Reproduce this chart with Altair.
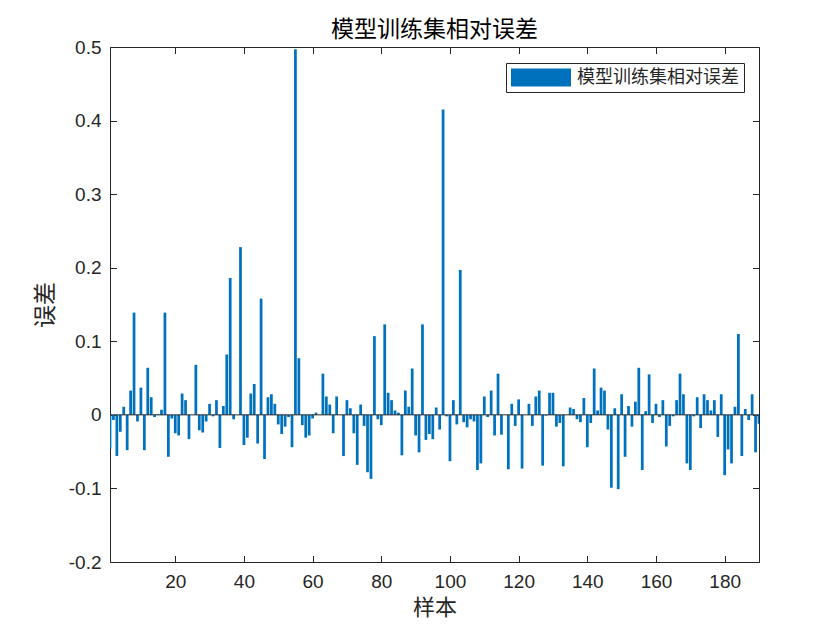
import altair as alt
import pandas as pd

# ---- data ----
err_values = [
    -0.046, -0.007, -0.056, -0.023, 0.011, -0.048, 0.033, 0.139, -0.009, 0.037,
    -0.048, 0.064, 0.024, -0.003, 0.001, 0.007, 0.139, -0.057, -0.005, -0.025,
    -0.028, 0.029, 0.020, -0.033, 0.000, 0.068, -0.021, -0.024, -0.009, 0.015,
    -0.002, 0.020, -0.045, 0.012, 0.082, 0.186, -0.006, 0.000, 0.228, -0.041,
    -0.031, 0.029, 0.042, -0.039, 0.158, -0.060, 0.024, 0.028, 0.015, -0.013,
    -0.026, -0.016, -0.003, -0.044, 0.497, 0.077, -0.014, -0.031, -0.028, -0.005,
    0.003, 0.000, 0.056, 0.025, 0.014, -0.025, 0.025, 0.000, -0.056, 0.020,
    0.009, -0.025, -0.068, 0.014, -0.015, -0.078, -0.087, 0.107, -0.006, -0.014,
    0.123, 0.030, 0.020, 0.006, 0.003, -0.055, 0.033, 0.011, 0.063, -0.028,
    -0.051, 0.123, -0.034, -0.026, -0.033, 0.010, -0.020, 0.415, -0.002, -0.063,
    0.020, -0.013, 0.197, -0.010, -0.017, -0.006, -0.009, -0.075, -0.066, 0.025,
    -0.003, 0.033, -0.028, 0.056, -0.027, 0.000, -0.074, 0.015, -0.015, 0.021,
    -0.073, 0.000, 0.015, -0.015, 0.025, 0.033, -0.069, -0.001, 0.030, 0.030,
    -0.016, -0.011, -0.070, 0.000, 0.010, 0.008, -0.006, -0.010, 0.023, -0.044,
    -0.011, 0.063, 0.006, 0.037, 0.033, -0.020, -0.099, 0.009, -0.101, 0.028,
    -0.057, 0.012, -0.016, 0.018, 0.064, -0.075, 0.005, 0.055, -0.011, 0.015,
    -0.003, 0.020, -0.043, -0.015, -0.002, 0.020, 0.056, 0.028, -0.066, -0.075,
    -0.002, 0.024, -0.018, 0.028, 0.020, 0.006, 0.020, -0.030, 0.028, -0.082,
    -0.047, -0.066, 0.011, 0.110, -0.056, 0.008, -0.007, 0.028, -0.051, -0.012,
]
samples = list(range(1, len(err_values) + 1))
x_ticks = [20, 40, 60, 80, 100, 120, 140, 160, 180]
y_ticks = [-0.2, -0.1, 0.0, 0.1, 0.2, 0.3, 0.4, 0.5]
baseline_value = [0.0]
series_name = "模型训练集相对误差"
chart_title = "模型训练集相对误差"
x_title = "样本"
y_title = "误差"

df = pd.DataFrame({"sample": samples, "err": err_values})
df["x0"] = df["sample"] - 0.4
df["x1"] = df["sample"] + 0.4
df["series"] = series_name
base_df = pd.DataFrame({"base": baseline_value})

AX = "#262626"
BAR = "#0072BD"
FONT = "Liberation Sans"
CJK = "Noto Sans CJK SC"
TICK = 6.5

xscale = alt.Scale(domain=[1, 190], nice=False, zero=False)
yscale = alt.Scale(domain=[-0.2, 0.5], nice=False, zero=False)

ylabel_expr = "datum.value == 0 ? '0' : replace(format(datum.value, '.1f'), '\u2212', '-')"

base = alt.Chart(df)

bars = base.mark_bar(clip=True).encode(
    x=alt.X("x0:Q", scale=xscale,
            axis=alt.Axis(orient="bottom", values=x_ticks, tickSize=0, domain=False,
                          grid=False, labelPadding=10, labelFont=FONT, labelFontSize=19,
                          labelColor=AX, title=x_title, titleFont=CJK, titleFontSize=22,
                          titleFontWeight="normal", titleColor=AX, titleX=324.5, titleY=45,
                          titleBaseline="middle")),
    x2="x1:Q",
    y=alt.Y("err:Q", scale=yscale,
            axis=alt.Axis(orient="left", values=y_ticks, tickSize=0, domain=False,
                          grid=False, labelPadding=9, labelFont=FONT, labelFontSize=19,
                          labelColor=AX, labelExpr=ylabel_expr, title=y_title,
                          titleFont=CJK, titleFontSize=23, titleFontWeight="normal",
                          titleColor=AX, titleX=-65, titleY=257.5, titleAngle=270,
                          titleBaseline="middle", titleAlign="center")),
    y2=alt.datum(0),
    color=alt.Color("series:N", scale=alt.Scale(range=[BAR]),
                    legend=alt.Legend(title=None, orient="none", legendX=396, legendY=16,
                                      symbolType="M-1,-0.3H1V0.3H-1Z", symbolSize=3600,
                                      symbolStrokeWidth=0, clipHeight=19,
                                      labelFont=CJK, labelFontSize=18, labelLimit=400,
                                      labelColor=AX, labelOffset=6, padding=5,
                                      strokeColor=AX, fillColor="white", cornerRadius=0)),
)

# inward ticks, bottom and left
ticks_a = base.mark_point(opacity=0).encode(
    x=alt.X("sample:Q", scale=xscale,
            axis=alt.Axis(orient="bottom", values=x_ticks, offset=-TICK, tickSize=TICK,
                          tickColor=AX, tickWidth=1, labels=False, domain=False, grid=False,
                          title=None)),
    y=alt.Y("err:Q", scale=yscale,
            axis=alt.Axis(orient="left", values=y_ticks, offset=-TICK, tickSize=TICK,
                          tickColor=AX, tickWidth=1, labels=False, domain=False, grid=False,
                          title=None)),
)

# inward ticks, top and right
ticks_b = base.mark_point(opacity=0).encode(
    x=alt.X("sample:Q", scale=xscale,
            axis=alt.Axis(orient="top", values=x_ticks, offset=-TICK, tickSize=TICK,
                          tickColor=AX, tickWidth=1, labels=False, domain=False, grid=False,
                          title=None)),
    y=alt.Y("err:Q", scale=yscale,
            axis=alt.Axis(orient="right", values=y_ticks, offset=-TICK, tickSize=TICK,
                          tickColor=AX, tickWidth=1, labels=False, domain=False, grid=False,
                          title=None)),
)

baseline = alt.Chart(base_df).mark_rule(color=AX, strokeWidth=1).encode(
    y=alt.Y("base:Q", scale=yscale, axis=None)
)

chart = (
    alt.layer(bars, baseline, ticks_a, ticks_b)
    .resolve_axis(x="independent", y="independent")
    .properties(
        width=649,
        height=515,
        autosize=alt.AutoSizeParams(type="none"),
        padding={"left": 102, "top": 39, "right": 73, "bottom": 60},
        title=alt.TitleParams(text=chart_title, font=CJK, fontSize=23, fontWeight="normal",
                              color="#000000", anchor="middle", offset=-4),
        background="white",
    )
    .configure_view(stroke=AX, strokeWidth=1)
    .configure_axis(grid=False)
)

chart.save("out.html", embed_options={"renderer": "svg", "actions": False})
